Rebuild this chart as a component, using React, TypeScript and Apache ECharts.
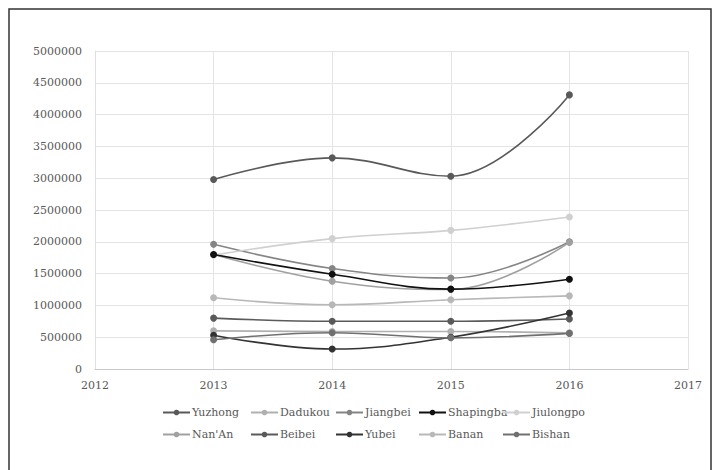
import React, { useEffect, useRef } from "react";
import * as echarts from "echarts";

const years = [2013, 2014, 2015, 2016];
const seriesNames = ["Yuzhong", "Dadukou", "Jiangbei", "Shapingba", "Jiulongpo", "Nan'An", "Beibei", "Yubei", "Banan", "Bishan"];
const yuzhong = [2980000, 3320000, 3030000, 4310000];
const dadukou = [600000, 590000, 590000, 570000];
const jiangbei = [1960000, 1580000, 1430000, 2000000];
const shapingba = [1800000, 1490000, 1256000, 1410000];
const jiulongpo = [1790000, 2050000, 2180000, 2390000];
const nanan = [1800000, 1380000, 1250000, 1990000];
const beibei = [800000, 750000, 750000, 785000];
const yubei = [530000, 314000, 500000, 880000];
const banan = [1120000, 1010000, 1090000, 1150000];
const bishan = [460000, 570000, 490000, 560000];
const seriesValues = [yuzhong, dadukou, jiangbei, shapingba, jiulongpo, nanan, beibei, yubei, banan, bishan];
const seriesColors = ["#595959", "#b0b0b0", "#858585", "#111111", "#d0d0d0", "#a0a0a0", "#5a5a5a", "#333333", "#b8b8b8", "#707070"];
const xTicks = [2012, 2017];
const yTicks = [0, 5000000];

export default function App() {
  const ref = useRef<HTMLDivElement>(null);
  useEffect(() => {
    if (!ref.current) return;
    const chart = echarts.init(ref.current, null, { renderer: "svg" });
    const font = "DejaVu Serif, Times New Roman, serif";
    const legendX = [162, 250, 335, 418, 502];
    const legendY = [407, 429];
    chart.setOption({
      animation: false,
      backgroundColor: "#ffffff",
      textStyle: { fontFamily: font },
      graphic: [
        {
          type: "rect",
          shape: { x: 9, y: 9, width: 702, height: 470 },
          style: { fill: "none", stroke: "#333333", lineWidth: 1.5 },
          silent: true,
        },
      ],
      grid: { left: 95, top: 51, width: 593, height: 318 },
      xAxis: {
        type: "value",
        min: xTicks[0],
        max: xTicks[1],
        interval: 1,
        axisLine: { show: true, lineStyle: { color: "#c8c8c8", width: 1 } },
        axisTick: { show: false },
        splitLine: { show: true, lineStyle: { color: "#e4e4e4", width: 1 } },
        axisLabel: {
          formatter: (v: number) => String(v),
          color: "#595959",
          fontFamily: font,
          fontSize: 11,
          margin: 11,
        },
      },
      yAxis: {
        type: "value",
        min: yTicks[0],
        max: yTicks[1],
        interval: 500000,
        axisLine: { show: true, lineStyle: { color: "#e0e0e0", width: 1 } },
        axisTick: { show: false },
        splitLine: { show: true, lineStyle: { color: "#e4e4e4", width: 1 } },
        axisLabel: {
          formatter: (v: number) => String(v),
          color: "#595959",
          fontFamily: font,
          fontSize: 11,
          margin: 13,
        },
      },
      legend: seriesNames.map((name, i) => ({
        data: [name],
        left: legendX[i % 5],
        top: legendY[Math.floor(i / 5)],
        padding: 0,
        itemWidth: 27,
        itemHeight: 7,
        itemGap: 0,
        textStyle: { fontFamily: font, fontSize: 11, color: "#595959", padding: [0, 0, 0, -3] },
      })),
      series: seriesNames.map((name, i) => ({
        name,
        type: "line",
        smooth: 0.4,
        data: years.map((y, j) => [y, seriesValues[i][j]]),
        symbol: "circle",
        symbolSize: 7,
        showSymbol: true,
        lineStyle: { color: seriesColors[i], width: 1.6 },
        itemStyle: { color: seriesColors[i] },
        z: i === 3 ? 5 : 2,
      })),
    });
    return () => chart.dispose();
  }, []);
  return (
    <div
      ref={ref}
      style={{ position: "fixed", left: 0, top: 0, width: 714, height: 470 }}
    />
  );
}
